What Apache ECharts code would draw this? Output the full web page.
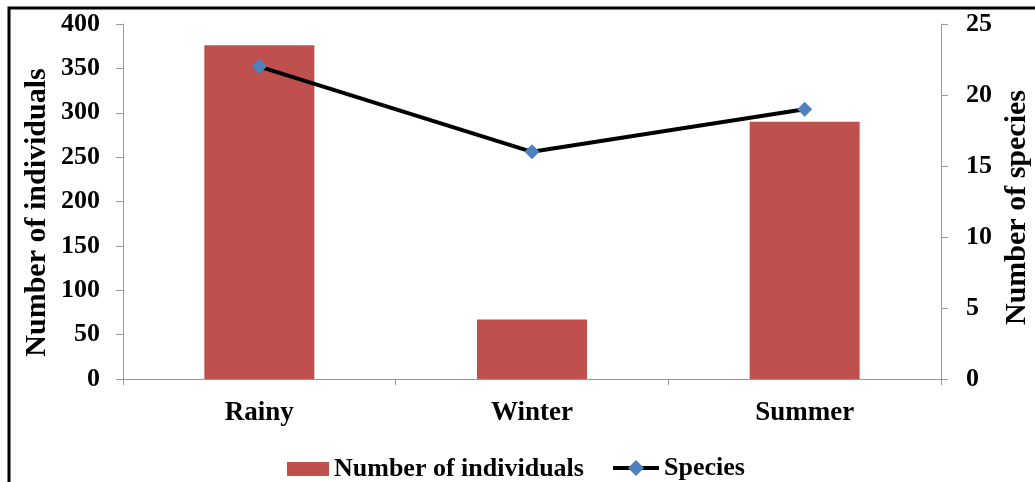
<!DOCTYPE html>
<html>
<head>
<meta charset="utf-8">
<script src="https://cdn.jsdelivr.net/npm/echarts@6/dist/echarts.min.js"></script>
<style>
  html, body { margin: 0; padding: 0; background: #fff; }
  #chart { width: 1035px; height: 482px; }
</style>
</head>
<body>
<div id="chart"></div>
<script>
// data
const seasons = ["Rainy", "Winter", "Summer"];
const individuals = [376, 67, 290];
const species = [22, 16, 19];

const font = "'Liberation Serif', 'Times New Roman', serif";
const legendText = { fontFamily: font, fontWeight: "bold", fontSize: 26, color: "#000" };

const myChart = echarts.init(document.getElementById("chart"));
const option = {
  animation: false,
  // frame around the figure
  graphic: [
    {
      type: "rect",
      shape: { x: 9, y: 8, width: 1040, height: 490 },
      style: { fill: "none", stroke: "#000", lineWidth: 3 },
      silent: true
    }
  ],
  grid: { left: 123, right: 94, top: 24, bottom: 103, outerBoundsMode: "none", containLabel: false },
  legend: [
    {
      left: 282,
      top: 451,
      itemWidth: 42,
      itemHeight: 14,
      icon: "rect",
      textStyle: legendText,
      data: ["Number of individuals"]
    },
    {
      left: 606,
      top: 450,
      itemWidth: 46,
      itemHeight: 20,
      lineStyle: { width: 4 },
      textStyle: legendText,
      data: ["Species"]
    }
  ],
  xAxis: {
    type: "category",
    data: seasons,
    axisLine: { lineStyle: { color: "#999", width: 1 } },
    axisTick: { show: true, length: 6, lineStyle: { color: "#999" } },
    axisLabel: { margin: 21, fontFamily: font, fontWeight: "bold", fontSize: 27, color: "#000" }
  },
  yAxis: [
    {
      type: "value",
      min: 0,
      max: 400,
      interval: 50,
      name: "Number of individuals",
      nameLocation: "middle",
      nameGap: 71,
      nameMoveOverlap: false,
      nameTextStyle: { fontFamily: font, fontWeight: "bold", fontSize: 30, color: "#000", padding: [0, 22, 0, 0] },
      axisLine: { show: true, lineStyle: { color: "#999" } },
      axisTick: { show: true, length: 7, lineStyle: { color: "#999" } },
      splitLine: { show: false },
      axisLabel: { margin: 23, fontFamily: font, fontWeight: "bold", fontSize: 26, color: "#000" }
    },
    {
      type: "value",
      min: 0,
      max: 25,
      interval: 5,
      name: "Number of species",
      nameLocation: "middle",
      nameGap: 61,
      nameMoveOverlap: false,
      nameTextStyle: { fontFamily: font, fontWeight: "bold", fontSize: 30, color: "#000", padding: [0, 12, 0, 0] },
      axisLine: { show: true, lineStyle: { color: "#999" } },
      axisTick: { show: true, length: 7, lineStyle: { color: "#999" } },
      splitLine: { show: false },
      axisLabel: { margin: 25, fontFamily: font, fontWeight: "bold", fontSize: 26, color: "#000" }
    }
  ],
  series: [
    {
      name: "Number of individuals",
      type: "bar",
      data: individuals,
      barWidth: 110,
      itemStyle: { color: "#C0504D" }
    },
    {
      name: "Species",
      type: "line",
      yAxisIndex: 1,
      data: species,
      symbol: "diamond",
      symbolSize: 15,
      lineStyle: { color: "#000", width: 4 },
      itemStyle: { color: "#4F81BD" }
    }
  ]
};
myChart.setOption(option);
</script>
</body>
</html>
